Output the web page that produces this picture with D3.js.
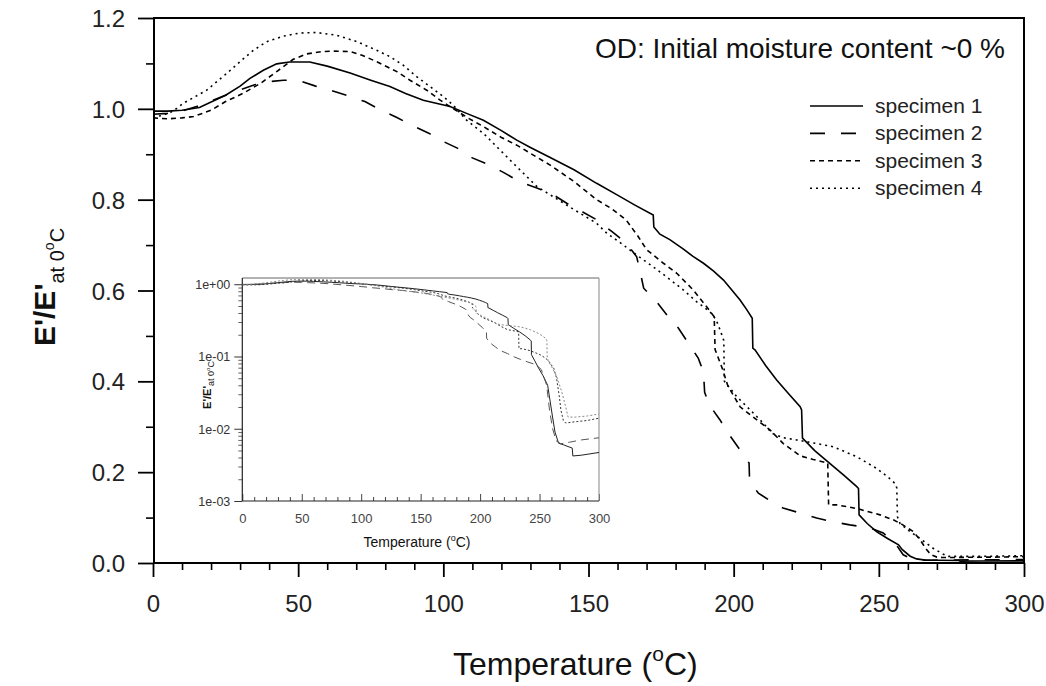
<!DOCTYPE html>
<html><head><meta charset="utf-8">
<script src="https://cdn.jsdelivr.net/npm/d3@7/dist/d3.min.js"></script>
<style>
html,body{margin:0;padding:0;background:#fff;}
svg{display:block;font-family:"Liberation Sans",Arial,sans-serif;}
</style></head>
<body>
<svg id="chart" width="1046" height="686"></svg>
<script>
// ---------- data ----------
const titleText = "OD: Initial moisture content ~0 %";
const seriesNames = ["specimen 1","specimen 2","specimen 3","specimen 4"];
const xTicks = [0,50,100,150,200,250,300];
const yTicks = [0.0,0.2,0.4,0.6,0.8,1.0,1.2];
const insetYTicks = [1e-3,1e-2,1e-1,1];
const insetYLabels = ["1e-03","1e-02","1e-01","1e+00"];

// [temperature, E'/E'0]
const spec1 = [[0,0.995],[5,0.995],[10,0.997],[16,1.003],[20,1.015],[25,1.03],[30,1.05],[33.4,1.067],[38,1.085],[42.6,1.099],[47,1.103],[54,1.103],[60,1.094],[67.9,1.079],[75,1.063],[81.6,1.049],[87,1.034],[93.1,1.019],[102.3,1.005],[108,0.99],[113.8,0.975],[120,0.952],[125.3,0.931],[130,0.915],[136.8,0.893],[145,0.866],[152.8,0.836],[160,0.81],[166,0.788],[172.3,0.766],[172.5,0.74],[174.6,0.724],[178,0.712],[182.7,0.691],[186,0.675],[189.6,0.66],[193,0.643],[196.5,0.623],[199.5,0.6],[202.2,0.579],[204.5,0.558],[206.4,0.539],[206.6,0.473],[207.4,0.469],[211,0.435],[214.8,0.403],[219,0.372],[222.9,0.344],[223.4,0.337],[223.7,0.275],[228,0.247],[233.2,0.219],[238,0.193],[242.4,0.168],[243,0.164],[243.2,0.106],[246,0.087],[249.2,0.069],[253,0.054],[256.8,0.04],[258,0.03],[260.8,0.015],[263,0.009],[266,0.0063],[270,0.006],[277.5,0.0054],[278,0.0042],[285,0.0043],[300,0.0047]];
const spec2 = [[0,0.988],[5,0.99],[10,0.995],[15,1.005],[20,1.017],[25,1.03],[30,1.042],[35,1.053],[40,1.06],[45,1.063],[50,1.063],[56,1.05],[61.5,1.04],[68,1.027],[73,1.016],[78,0.999],[84,0.981],[89.7,0.962],[94.8,0.947],[100,0.928],[105,0.913],[110,0.892],[116,0.876],[121,0.859],[126.4,0.839],[132,0.826],[136.8,0.815],[142.5,0.792],[148,0.773],[153,0.755],[158,0.73],[163,0.705],[166.6,0.674],[167.8,0.641],[169,0.605],[173.5,0.575],[177,0.546],[181,0.517],[184.4,0.484],[187.8,0.451],[189.6,0.421],[190,0.376],[191.6,0.348],[195.3,0.315],[198.1,0.286],[202.2,0.249],[205.3,0.22],[205.5,0.179],[208.5,0.154],[213,0.135],[217,0.121],[222.9,0.11],[228.6,0.099],[234,0.091],[240,0.084],[247,0.077],[251.5,0.066],[256,0.04],[258.4,0.018],[261,0.01],[264,0.0068],[268,0.0062],[275,0.0065],[285,0.007],[300,0.0075]];
const spec3 = [[0,0.98],[5,0.978],[10,0.98],[14,0.983],[20,0.997],[25,1.016],[31,1.034],[37,1.056],[42.6,1.082],[48.3,1.109],[53,1.121],[58,1.126],[62,1.127],[68,1.126],[72,1.118],[77,1.104],[84,1.082],[88.5,1.063],[94.3,1.041],[98.9,1.019],[102.3,1.005],[106,0.99],[109,0.978],[113.8,0.961],[120,0.937],[125.3,0.92],[130,0.902],[136.8,0.876],[145,0.84],[152.8,0.8],[158,0.78],[163,0.755],[167,0.72],[170,0.69],[175.8,0.66],[180.4,0.638],[186.1,0.601],[190.7,0.564],[193.3,0.542],[193.6,0.47],[196,0.43],[198,0.39],[202.2,0.344],[208,0.315],[212.5,0.293],[217.1,0.263],[222.9,0.236],[227.4,0.228],[232.4,0.22],[232.7,0.128],[235.5,0.128],[242.4,0.12],[250.4,0.106],[255,0.095],[258,0.085],[261.9,0.069],[264.2,0.051],[266.5,0.029],[268,0.018],[270,0.013],[272,0.012],[280,0.0125],[290,0.013],[300,0.014]];
const spec4 = [[0,0.982],[3,0.985],[6,0.992],[8.2,1.001],[10.4,1.012],[14,1.025],[18.5,1.041],[22,1.06],[25.4,1.078],[30,1.104],[34.6,1.129],[39.2,1.148],[44.9,1.16],[50.6,1.167],[56.4,1.168],[63.3,1.162],[70.2,1.148],[77,1.129],[81.6,1.115],[86.2,1.096],[90.8,1.071],[95.4,1.049],[100,1.027],[103.4,1.008],[108,0.975],[113.8,0.946],[123,0.887],[132.2,0.829],[142.5,0.788],[152.8,0.748],[156.3,0.726],[161,0.705],[166.6,0.678],[172.3,0.652],[176.9,0.63],[182.7,0.601],[187.3,0.575],[191.9,0.553],[194,0.535],[195.5,0.51],[196.6,0.49],[196.8,0.4],[201.1,0.366],[205.7,0.337],[210.2,0.308],[213.1,0.286],[217,0.276],[221.7,0.271],[228.6,0.263],[234.3,0.256],[242.4,0.234],[249.3,0.208],[253,0.19],[255.6,0.175],[256.2,0.165],[256.4,0.102],[257.3,0.087],[260.8,0.069],[264.2,0.054],[268.8,0.032],[272,0.02],[274,0.0145],[280,0.0145],[290,0.015],[300,0.016]];

const allSeries = [spec1, spec2, spec3, spec4];
const mainDash = [null, "15,16", "5,4", "2,4"];
const insetDash = [null, "8,5", "2,2", "2,2"];
const insetColor = ["#222", "#555", "#333", "#888"];

// ---------- main chart ----------
const svg = d3.select("#chart");
const x = d3.scaleLinear().domain([0,300]).range([153,1024]);
const y = d3.scaleLinear().domain([0,1.2]).range([563,18]);

svg.append("defs").append("clipPath").attr("id","mainclip")
  .append("rect").attr("x",153).attr("y",18).attr("width",871).attr("height",545);

// minor ticks
const xMinor = d3.range(0,301,10).filter(v=>v%50!==0);
const yMinor = [0.1,0.3,0.5,0.7,0.9,1.1];
svg.append("g").attr("transform","translate(0,563)")
  .call(d3.axisBottom(x).tickValues(xMinor).tickSize(7).tickFormat(""))
  .call(g=>{g.select(".domain").remove(); g.selectAll("line").attr("stroke","#000").attr("stroke-width",1.6);});
svg.append("g").attr("transform","translate(154,0)")
  .call(d3.axisLeft(y).tickValues(yMinor).tickSize(8).tickFormat(""))
  .call(g=>{g.select(".domain").remove(); g.selectAll("line").attr("stroke","#000").attr("stroke-width",1.6);});

// major ticks
svg.append("g").attr("transform","translate(0,563)")
  .call(d3.axisBottom(x).tickValues(xTicks).tickSize(14).tickFormat(d3.format("d")))
  .call(g=>{
    g.select(".domain").remove();
    g.selectAll("line").attr("stroke","#000").attr("stroke-width",1.8);
    g.selectAll("text").attr("y",49).attr("dy",0).attr("fill","#222")
      .style("font-size","24px").style("font-family","'Liberation Sans',Arial,sans-serif");
  });
svg.append("g").attr("transform","translate(154,0)")
  .call(d3.axisLeft(y).tickValues(yTicks).tickSize(16).tickFormat(d3.format(".1f")))
  .call(g=>{
    g.select(".domain").remove();
    g.selectAll("line").attr("stroke","#000").attr("stroke-width",1.8);
    g.selectAll("text").attr("x",-29).attr("dy","0.36em").attr("fill","#222")
      .style("font-size","24px").style("font-family","'Liberation Sans',Arial,sans-serif");
  });

// frame
svg.append("rect").attr("x",154).attr("y",18).attr("width",870).attr("height",545)
  .attr("fill","none").attr("stroke","#000").attr("stroke-width",2);

// curves
const line = d3.line().x(d=>x(d[0])).y(d=>y(d[1]));
const cg = svg.append("g").attr("clip-path","url(#mainclip)");
allSeries.forEach((s,i)=>{
  cg.append("path").datum(s).attr("d",line).attr("fill","none")
    .attr("stroke","#000").attr("stroke-width",1.6)
    .attr("stroke-dasharray",mainDash[i]);
});

// title
svg.append("text").attr("x",1005).attr("y",58).attr("text-anchor","end")
  .attr("fill","#111").style("font-size","28px").text(titleText);

// legend
const lg = svg.append("g");
seriesNames.forEach((n,i)=>{
  const yy = 106 + i*27.4;
  lg.append("line").attr("x1",810).attr("x2",863).attr("y1",yy).attr("y2",yy)
    .attr("stroke","#000").attr("stroke-width",1.6).attr("stroke-dasharray",mainDash[i]);
  lg.append("text").attr("x",875).attr("y",yy+7).attr("fill","#222")
    .style("font-size","21px").text(n);
});

// axis titles
const xt = svg.append("text").attr("x",453).attr("y",675).attr("fill","#111").style("font-size","32px");
xt.append("tspan").text("Temperature (");
xt.append("tspan").attr("dy",-14).style("font-size","21px").text("o");
xt.append("tspan").attr("dy",14).text("C)");

const yt = svg.append("text").attr("transform","translate(55,287) rotate(-90)")
  .attr("text-anchor","middle").attr("fill","#111");
yt.append("tspan").style("font-size","30px").style("font-weight","bold").text("E'/E'");
yt.append("tspan").attr("dy",9).style("font-size","20px").text("at 0");
yt.append("tspan").attr("dy",-10).style("font-size","14px").text("o");
yt.append("tspan").attr("dy",10).style("font-size","20px").text("C");

// ---------- inset ----------
const xi = d3.scaleLinear().domain([0,300]).range([242.3,599]);
const yi = d3.scaleLog().domain([1e-3,1.22]).range([501,278]);
const ig = svg.append("g");
ig.append("rect").attr("x",242.3).attr("y",278).attr("width",356.7).attr("height",223).attr("fill","#fff");
svg.select("defs").append("clipPath").attr("id","insetclip")
  .append("rect").attr("x",242.3).attr("y",278).attr("width",356.7).attr("height",223);

// inset x ticks (inward)
const xiMinor = d3.range(0,301,10).filter(v=>v%50!==0);
ig.append("g").attr("transform","translate(0,501)")
  .call(d3.axisTop(xi).tickValues(xiMinor).tickSize(4).tickFormat(""))
  .call(g=>{g.select(".domain").remove(); g.selectAll("line").attr("stroke","#444");});
ig.append("g").attr("transform","translate(0,501)")
  .call(d3.axisTop(xi).tickValues(xTicks).tickSize(7).tickFormat(""))
  .call(g=>{g.select(".domain").remove(); g.selectAll("line").attr("stroke","#444");});
ig.append("g").attr("transform","translate(0,501)")
  .call(d3.axisBottom(xi).tickValues(xTicks).tickSize(0).tickFormat(d3.format("d")))
  .call(g=>{
    g.select(".domain").remove();
    g.selectAll("text").attr("y",22).attr("dy",0).attr("fill","#444")
      .style("font-size","13px").style("font-family","'Liberation Sans',Arial,sans-serif");
  });
// inset y ticks (log)
const yiMinor = [];
[1e-3,1e-2,1e-1].forEach(b=>{for(let k=2;k<=9;k++) yiMinor.push(b*k);});
ig.append("g").attr("transform","translate(242.3,0)")
  .call(d3.axisLeft(yi).tickValues(yiMinor).tickSize(4).tickFormat(""))
  .call(g=>{g.select(".domain").remove(); g.selectAll("line").attr("stroke","#666");});
ig.append("g").attr("transform","translate(242.3,0)")
  .call(d3.axisLeft(yi).tickValues(insetYTicks).tickSize(8).tickFormat((d,i)=>insetYLabels[i]))
  .call(g=>{
    g.select(".domain").remove();
    g.selectAll("line").attr("stroke","#333");
    g.selectAll("text").attr("x",-12).attr("dy","0.35em").attr("fill","#333")
      .style("font-size","12.5px").style("font-family","'Liberation Sans',Arial,sans-serif");
  });

// inset frame
ig.append("line").attr("x1",242.3).attr("x2",599).attr("y1",278).attr("y2",278).attr("stroke","#666").attr("stroke-width",1);
ig.append("line").attr("x1",599).attr("x2",599).attr("y1",278).attr("y2",501).attr("stroke","#999").attr("stroke-width",1.2);
ig.append("line").attr("x1",242.3).attr("x2",242.3).attr("y1",278).attr("y2",501).attr("stroke","#222").attr("stroke-width",1.2);
ig.append("line").attr("x1",242.3).attr("x2",599).attr("y1",501).attr("y2",501).attr("stroke","#222").attr("stroke-width",1.2);

const iline = d3.line().x(d=>xi(d[0])).y(d=>yi(d[1]));
const icg = ig.append("g").attr("clip-path","url(#insetclip)");
allSeries.forEach((s,i)=>{
  icg.append("path").datum(s).attr("d",iline).attr("fill","none")
    .attr("stroke",insetColor[i]).attr("stroke-width",1)
    .attr("stroke-dasharray",insetDash[i]);
});

// inset axis titles
const ixt = ig.append("text").attr("x",417).attr("y",547).attr("text-anchor","middle")
  .attr("fill","#111").style("font-size","14px");
ixt.append("tspan").text("Temperature (");
ixt.append("tspan").attr("dy",-6).style("font-size","9px").text("o");
ixt.append("tspan").attr("dy",6).text("C)");

const iyt = ig.append("text").attr("transform","translate(211,385) rotate(-90)")
  .attr("text-anchor","middle").attr("fill","#111");
iyt.append("tspan").style("font-size","11px").style("font-weight","bold").text("E'/E'");
iyt.append("tspan").attr("dy",3).style("font-size","9px").text("at 0");
iyt.append("tspan").attr("dy",-4).style("font-size","6px").text("o");
iyt.append("tspan").attr("dy",4).style("font-size","9px").text("C");
</script>
</body></html>
